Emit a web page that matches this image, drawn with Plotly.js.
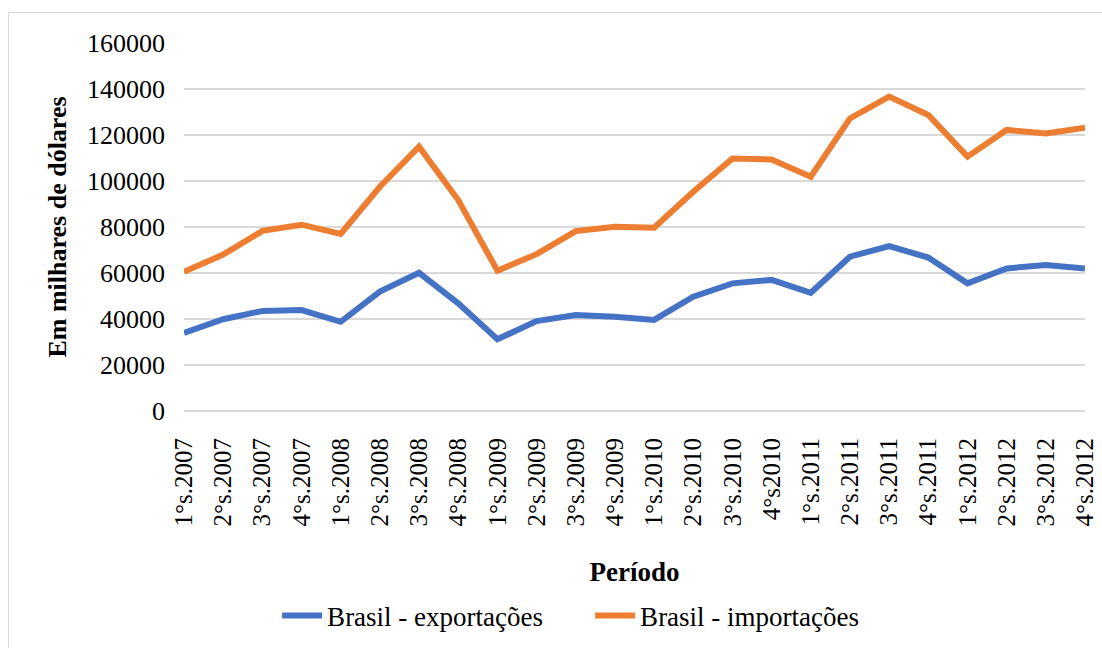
<!DOCTYPE html>
<html>
<head>
<meta charset="utf-8">
<script src="https://cdn.plot.ly/plotly-3.0.1.min.js"></script>
<style>
  html, body { margin: 0; padding: 0; background: #ffffff; overflow: hidden; }
  #frame { position: absolute; left: 8px; top: 12px; width: 1120px; height: 700px; border: 1.5px solid #d9d9d9; box-sizing: border-box; }
  #chart { position: absolute; left: 0; top: 0; width: 1102px; height: 648px; }
</style>
</head>
<body>
<div id="frame"></div>
<div id="chart"></div>
<script>
const periods = ["1°s.2007","2°s.2007","3°s.2007","4°s.2007",
                 "1°s.2008","2°s.2008","3°s.2008","4°s.2008",
                 "1°s.2009","2°s.2009","3°s.2009","4°s.2009",
                 "1°s.2010","2°s.2010","3°s.2010","4°s2010",
                 "1°s.2011","2°s.2011","3°s.2011","4°s.2011",
                 "1°s.2012","2°s.2012","3°s.2012","4°s.2012"];
const exportacoes = [34000, 39900, 43500, 43900, 38800, 51900, 60100, 46800,
                     31200, 39100, 41700, 41000, 39600, 49700, 55500, 57000,
                     51400, 67100, 71700, 66700, 55500, 62000, 63500, 62000];
const importacoes = [60500, 68000, 78300, 81000, 77000, 97500, 114900, 91700,
                     61000, 68200, 78200, 80100, 79700, 95300, 109800, 109400,
                     101900, 127200, 136700, 128700, 110600, 122200, 120700, 123200];
const seriesNames = ["Brasil - exportações", "Brasil - importações"];
const yTicks = [0, 20000, 40000, 60000, 80000, 100000, 120000, 140000, 160000];

const font = "Liberation Serif, Times New Roman, serif";

const traces = [
  { x: periods, y: exportacoes, name: seriesNames[0], type: "scatter", mode: "lines",
    line: { color: "#4472C4", width: 6, shape: "linear" } },
  { x: periods, y: importacoes, name: seriesNames[1], type: "scatter", mode: "lines",
    line: { color: "#ED7D31", width: 6, shape: "linear" } }
];

const layout = {
  width: 1102, height: 648,
  paper_bgcolor: "rgba(0,0,0,0)", plot_bgcolor: "rgba(0,0,0,0)",
  margin: { l: 184, r: 17, t: 43, b: 237 },
  font: { family: font, color: "#000000", size: 25 },
  showlegend: true,
  legend: { orientation: "h", xref: "container", yref: "container",
            x: 0.5355, xanchor: "center", y: 1 - 616 / 648, yanchor: "middle",
            font: { family: font, size: 27, color: "#000" }, itemwidth: 40,
            entrywidth: 258, entrywidthmode: "pixels" },
  xaxis: {
    type: "category", tickangle: -90, showgrid: false, zeroline: false,
    showline: false, ticks: "", ticklabelstandoff: 21,
    tickfont: { family: font, size: 25, color: "#000" },
    title: { text: "<b>Período</b>", font: { family: font, size: 27, color: "#000" }, standoff: 36 },
    automargin: false
  },
  yaxis: {
    range: [0, 160000], tickvals: yTicks, ticktext: yTicks.map(String),
    showgrid: true, gridcolor: "#d9d9d9", gridwidth: 1.5,
    zeroline: true, zerolinecolor: "#d9d9d9", zerolinewidth: 1.5,
    showline: false, ticks: "", ticklabelstandoff: 18,
    tickfont: { family: font, size: 26, color: "#000" },
    title: { text: "<b>Em milhares de dólares</b>", font: { family: font, size: 26, color: "#000" }, standoff: 12 },
    automargin: false
  }
};

Plotly.newPlot("chart", traces, layout, { displayModeBar: false, staticPlot: true });
</script>
</body>
</html>
